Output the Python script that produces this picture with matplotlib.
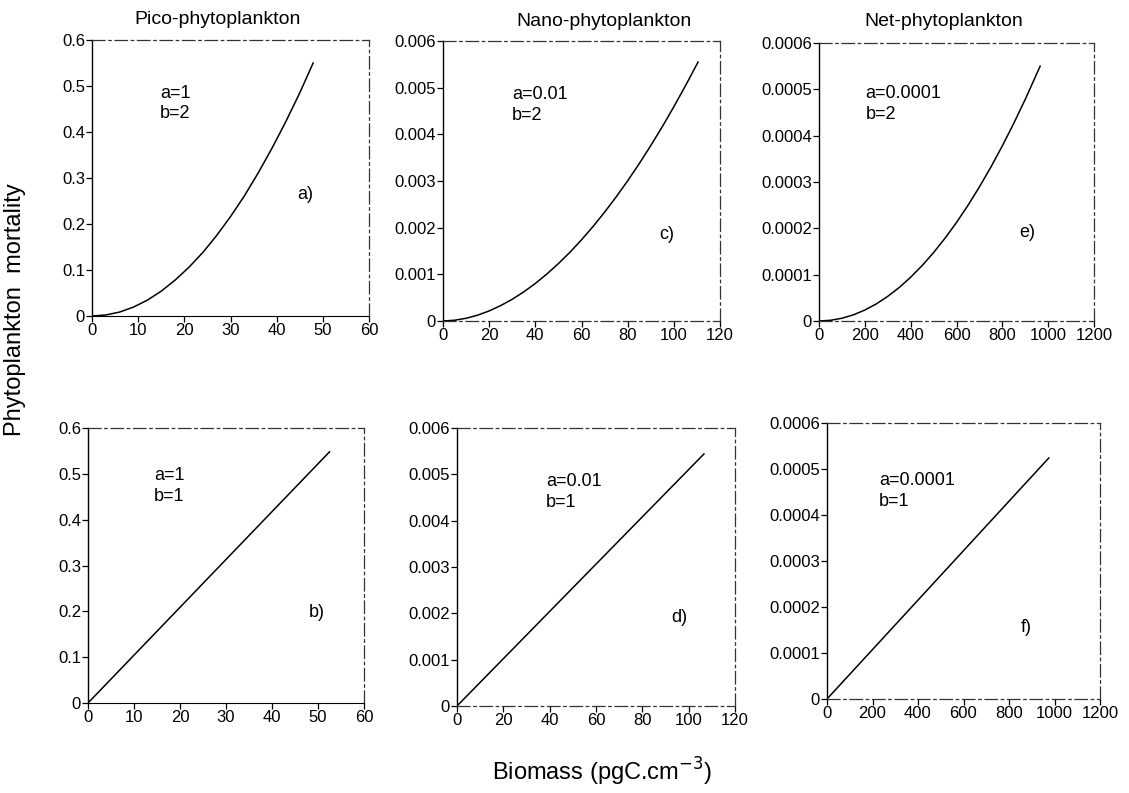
import numpy as np
import matplotlib
matplotlib.use("Agg")
import matplotlib.pyplot as plt
from matplotlib.ticker import FuncFormatter

plt.rcParams['font.family'] = ['Liberation Sans', 'DejaVu Sans']

# values (biomass vs mortality)
pico_sq_x = [0, 3, 6, 9, 12, 15, 18, 21, 24, 27, 30, 33, 36, 39, 42, 45, 47.9]
pico_sq_y = [0, 0.0022, 0.0086, 0.0194, 0.0345, 0.054, 0.078, 0.106, 0.138, 0.175,
             0.216, 0.261, 0.311, 0.365, 0.423, 0.485, 0.55]
pico_lin_x = [0, 52.5]
pico_lin_y = [0, 0.548]

nano_sq_x = [0, 5, 10, 15, 20, 25, 30, 35, 40, 45, 50, 55, 60, 65, 70, 75, 80,
             85, 90, 95, 100, 105, 110.5]
nano_sq_y = [0, 0.000016, 0.000058, 0.000125, 0.000216, 0.00033, 0.000466, 0.000624,
             0.000805, 0.001007, 0.00123, 0.001474, 0.001739, 0.002025, 0.002332,
             0.002658, 0.003004, 0.003371, 0.003758, 0.004164, 0.004591, 0.005037, 0.00555]
nano_lin_x = [0, 106.6]
nano_lin_y = [0, 0.00544]

net_sq_x = [0, 50, 100, 150, 200, 250, 300, 350, 400, 450, 500, 550, 600, 650,
            700, 750, 800, 850, 900, 965]
net_sq_y = [0, 0.0000015, 0.0000059, 0.0000133, 0.0000236, 0.0000369, 0.0000532,
            0.0000723, 0.0000945, 0.0001196, 0.0001477, 0.0001787, 0.0002126,
            0.0002495, 0.0002894, 0.0003322, 0.000378, 0.0004267, 0.0004784, 0.00055]
net_lin_x = [0, 975]
net_lin_y = [0, 0.000524]

titles = ['Pico-phytoplankton', 'Nano-phytoplankton', 'Net-phytoplankton']
a_labels = ['a=1', 'a=0.01', 'a=0.0001']
panel_top = ['a)', 'c)', 'e)']
panel_bot = ['b)', 'd)', 'f)']
x_max = [60, 120, 1200]
x_step = [10, 20, 200]
y_max = [0.6, 0.006, 0.0006]

W, H = 1129, 793
fig = plt.figure(figsize=(W / 100, H / 100), dpi=100)


def box(l, r, t, b):
    return [l / W, (H - b) / H, (r - l) / W, (b - t) / H]


# pixel boxes: left, right, top, bottom
boxes_top = [box(92, 369, 40, 316), box(443, 720, 41, 321), box(819, 1094, 43, 321)]
boxes_bot = [box(88, 364, 428, 703), box(457, 735, 428, 706), box(827, 1100, 423, 699)]

# title centres in pixels
title_xy = [(218, 20), (604, 22), (944, 22)]

# text positions in axes fraction
ab_pos_top = [(0.245, 0.77), (0.25, 0.77), (0.17, 0.78)]
lab_pos_top = [(0.74, 0.44), (0.78, 0.31), (0.73, 0.32)]
ab_pos_bot = [(0.24, 0.79), (0.32, 0.77), (0.19, 0.755)]
lab_pos_bot = [(0.80, 0.33), (0.77, 0.32), (0.71, 0.26)]

curves_top = [(pico_sq_x, pico_sq_y), (nano_sq_x, nano_sq_y), (net_sq_x, net_sq_y)]
curves_bot = [(pico_lin_x, pico_lin_y), (nano_lin_x, nano_lin_y), (net_lin_x, net_lin_y)]

fmt = FuncFormatter(lambda v, _: '0' if abs(v) < 1e-12 else f'{v:g}')
dashdot = (0, (10, 3, 2, 3))


def style(ax, i):
    ax.set_xlim(0, x_max[i])
    ax.set_ylim(0, y_max[i])
    ax.set_xticks(np.arange(0, x_max[i] + 1, x_step[i]))
    ax.set_yticks(np.linspace(0, y_max[i], 7))
    ax.xaxis.set_major_formatter(fmt)
    ax.yaxis.set_major_formatter(fmt)
    ax.tick_params(direction='out', length=4, width=0.9, labelsize=12, pad=1)
    ax.spines['left'].set_linewidth(1.0)
    for s in ['top', 'right'] + (['bottom'] if i > 0 else []):
        ax.spines[s].set_linewidth(0.9)
        ax.spines[s].set_linestyle(dashdot)
        ax.spines[s].set_color('#333333')


for i in range(3):
    ax = fig.add_axes(boxes_top[i])
    ax.plot(*curves_top[i], color='black', lw=1.1)
    style(ax, i)
    ax.text(*ab_pos_top[i], a_labels[i] + '\nb=2', transform=ax.transAxes,
            fontsize=13, va='center', ha='left', linespacing=1.3)
    ax.text(*lab_pos_top[i], panel_top[i], transform=ax.transAxes,
            fontsize=13, va='center', ha='left')
    fig.text(title_xy[i][0] / W, 1 - title_xy[i][1] / H, titles[i],
             fontsize=14, ha='center', va='center')

    ax = fig.add_axes(boxes_bot[i])
    ax.plot(*curves_bot[i], color='black', lw=1.1)
    style(ax, i)
    ax.text(*ab_pos_bot[i], a_labels[i] + '\nb=1', transform=ax.transAxes,
            fontsize=13, va='center', ha='left', linespacing=1.3)
    ax.text(*lab_pos_bot[i], panel_bot[i], transform=ax.transAxes,
            fontsize=13, va='center', ha='left')

fig.text(15 / W, 1 - 310 / H, 'Phytoplankton  mortality', rotation=90,
         fontsize=17, ha='center', va='center')
fig.text(602 / W, 1 - 772 / H, 'Biomass (pgC.cm$^{-3}$)',
         fontsize=17, ha='center', va='center')

fig.savefig('out.png', dpi=100)
